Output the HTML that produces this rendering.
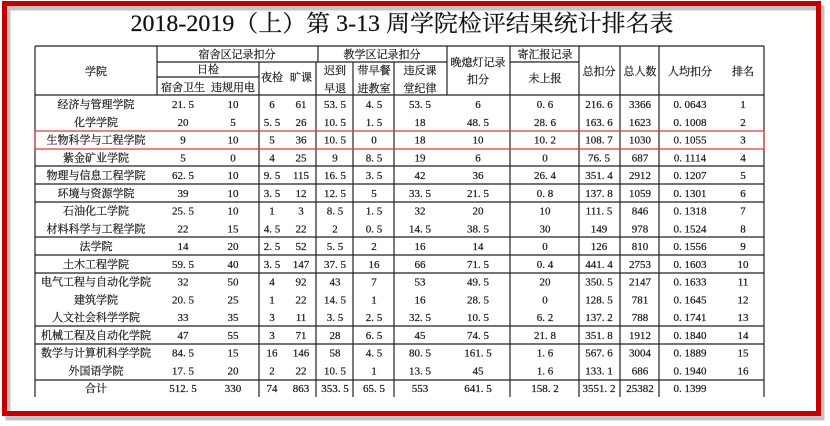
<!DOCTYPE html>
<html><head><meta charset="utf-8"><style>
html,body{margin:0;padding:0;background:#fff;}
svg{display:block}
text{font-family:"Liberation Serif","Noto Serif CJK SC",serif;fill:#222;stroke:#222;stroke-width:0.25;font-size:11px;text-anchor:middle;}
</style></head><body>
<svg width="830" height="426" xmlns="http://www.w3.org/2000/svg">
<rect x="0" y="0" width="830" height="426" fill="#fff"/>
<rect x="8" y="8" width="814" height="410" fill="none" stroke="#888" stroke-width="5" opacity="0.5"/>
<rect x="4.5" y="3.5" width="814" height="410" fill="none" stroke="#c40000" stroke-width="5"/>
<text x="402" y="31" style="font-size:23px;fill:#111;stroke:#111;stroke-width:0.2" textLength="543" lengthAdjust="spacingAndGlyphs">2018-2019（上）第 3-13 周学院检评结果统计排名表</text>
<g stroke="#222" stroke-width="1.2" fill="none">
<line x1="35" y1="46" x2="764" y2="46"/>
<line x1="35" y1="46" x2="35" y2="397"/>
<line x1="764" y1="46" x2="764" y2="397"/>
<line x1="35" y1="95" x2="764" y2="95"/>
<line x1="157" y1="46" x2="157" y2="95"/>
<line x1="157" y1="62" x2="447" y2="62"/>
<line x1="510" y1="62" x2="579" y2="62"/>
<line x1="157" y1="77" x2="259" y2="77"/>
<line x1="259" y1="62" x2="259" y2="397"/>
<line x1="316" y1="62" x2="316" y2="397"/>
<line x1="318" y1="46" x2="318" y2="62"/>
<line x1="353" y1="62" x2="353" y2="397"/>
<line x1="394" y1="62" x2="394" y2="397"/>
<line x1="447" y1="46" x2="447" y2="95"/>
<line x1="510" y1="46" x2="510" y2="397"/>
<line x1="579" y1="46" x2="579" y2="397"/>
<line x1="620" y1="46" x2="620" y2="397"/>
<line x1="659" y1="46" x2="659" y2="397"/>
<line x1="35" y1="166" x2="764" y2="166"/>
<line x1="35" y1="184" x2="764" y2="184"/>
<line x1="35" y1="202" x2="764" y2="202"/>
<line x1="35" y1="237" x2="764" y2="237"/>
<line x1="35" y1="255" x2="764" y2="255"/>
<line x1="35" y1="273" x2="764" y2="273"/>
<line x1="35" y1="326" x2="764" y2="326"/>
<line x1="35" y1="344" x2="764" y2="344"/>
<line x1="35" y1="380" x2="764" y2="380"/>
</g>
<rect x="35" y="131" width="729" height="18" fill="none" stroke="#e03030" stroke-width="1.2"/>
<g>
<text x="96" y="75">学院</text>
<text x="237" y="58">宿舍区记录扣分</text>
<text x="208" y="73">日检</text>
<text x="183" y="91">宿舍卫生</text>
<text x="233" y="91">违规用电</text>
<text x="272" y="81">夜检</text>
<text x="301" y="81">旷课</text>
<text x="382" y="58">教学区记录扣分</text>
<text x="335" y="74">迟到</text>
<text x="335" y="92">早退</text>
<text x="374" y="74">带早餐</text>
<text x="374" y="92">进教室</text>
<text x="420" y="74">违反课</text>
<text x="420" y="92">堂纪律</text>
<text x="478" y="66">晚熄灯记录</text>
<text x="478" y="83">扣分</text>
<text x="545" y="58">寄汇报记录</text>
<text x="545" y="82">未上报</text>
<text x="599" y="75">总扣分</text>
<text x="640" y="75">总人数</text>
<text x="690" y="75">人均扣分</text>
<text x="743" y="75">排名</text>
</g>
<g id="rows"></g>
</svg>
<script>
var d=[
["经济与管理学院","21.5","10","6","61","53.5","4.5","53.5","6","0.6","216.6","3366","0.0643","1"],
["化学学院","20","5","5.5","26","10.5","1.5","18","48.5","28.6","163.6","1623","0.1008","2"],
["生物科学与工程学院","9","10","5","36","10.5","0","18","10","10.2","108.7","1030","0.1055","3"],
["紫金矿业学院","5","0","4","25","9","8.5","19","6","0","76.5","687","0.1114","4"],
["物理与信息工程学院","62.5","10","9.5","115","16.5","3.5","42","36","26.4","351.4","2912","0.1207","5"],
["环境与资源学院","39","10","3.5","12","12.5","5","33.5","21.5","0.8","137.8","1059","0.1301","6"],
["石油化工学院","25.5","10","1","3","8.5","1.5","32","20","10","111.5","846","0.1318","7"],
["材料科学与工程学院","22","15","4.5","22","2","0.5","14.5","38.5","30","149","978","0.1524","8"],
["法学院","14","20","2.5","52","5.5","2","16","14","0","126","810","0.1556","9"],
["土木工程学院","59.5","40","3.5","147","37.5","16","66","71.5","0.4","441.4","2753","0.1603","10"],
["电气工程与自动化学院","32","50","4","92","43","7","53","49.5","20","350.5","2147","0.1633","11"],
["建筑学院","20.5","25","1","22","14.5","1","16","28.5","0","128.5","781","0.1645","12"],
["人文社会科学学院","33","35","3","11","3.5","2.5","32.5","10.5","6.2","137.2","788","0.1741","13"],
["机械工程及自动化学院","47","55","3","71","28","6.5","45","74.5","21.8","351.8","1912","0.1840","14"],
["数学与计算机科学学院","84.5","15","16","146","58","4.5","80.5","161.5","1.6","567.6","3004","0.1889","15"],
["外国语学院","17.5","20","2","22","10.5","1","13.5","45","1.6","133.1","686","0.1940","16"],
["合计","512.5","330","74","863","353.5","65.5","553","641.5","158.2","3551.2","25382","0.1399",""]];
var xs=[96,183,233,272,301,335,374,420,478,545,599,640,690,743];
var s="";
d.forEach(function(r,i){var y=95+i*17.75+13;r.forEach(function(c,j){var t=c;if(j>0)t=c.replace(".",". ");s+='<text x="'+xs[j]+'" y="'+y.toFixed(1)+'">'+t+'</text>';});});
document.getElementById("rows").innerHTML=s;
</script>
</body></html>
